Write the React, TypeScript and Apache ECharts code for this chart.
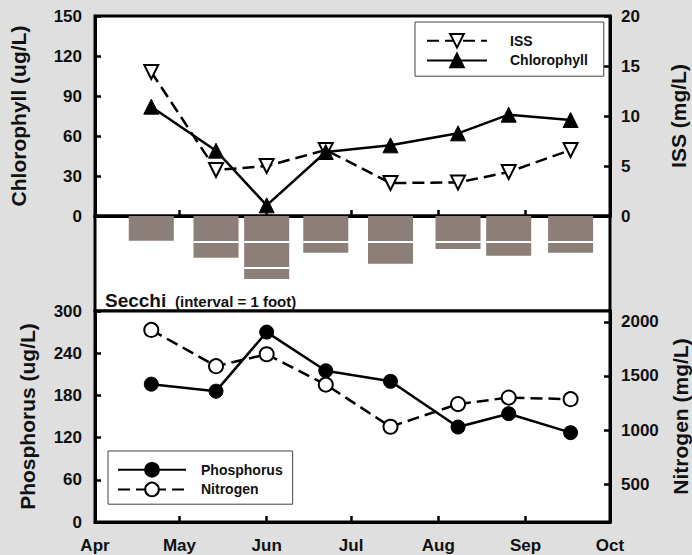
import React, { useEffect, useRef } from "react";
import * as echarts from "echarts";

// ---- data ----
const monthNames = ["Apr", "May", "Jun", "Jul", "Aug", "Sep", "Oct"];
const monthStartDays = [0, 30, 61, 91, 122, 153, 183]; // days since Apr 1
const sampleDays = [20, 43, 61, 82, 105, 129, 147, 169];
const chlorophyll = [82, 49, 8, 48, 53, 62, 76, 72];
const iss = [14.4, 4.6, 5.0, 6.6, 3.3, 3.35, 4.4, 6.6];
const secchiFeet = [0.95, 1.6, 2.42, 1.41, 1.83, 1.27, 1.53, 1.41];
const phosphorus = [196, 186, 270, 215, 200, 135, 154, 127];
const nitrogen = [1925, 1590, 1700, 1420, 1030, 1240, 1300, 1285];
const chlTicks = [0, 30, 60, 90, 120, 150];
const nitrogenTicks = [500, 1000, 1500, 2000];

const FONT = '"Liberation Sans", Arial, Helvetica, sans-serif';
const INK = "#111111";
const BAR = "#8c7e79";

export default function App() {
  const ref = useRef<HTMLDivElement>(null);
  useEffect(() => {
    if (!ref.current) return;
    document.body.style.margin = "0";
    const chart = echarts.init(ref.current, null, { renderer: "svg" });
    const pair = (arr: number[]) => sampleDays.map((d, i) => [d, arr[i]]);
    const axisLine = { show: true, lineStyle: { color: "#000", width: 3 } };
    const tickStyle = { show: true, inside: true, length: 6, lineStyle: { color: "#000", width: 2.5 } };
    const labelStyle = { color: INK, fontSize: 17, fontWeight: "bold", fontFamily: FONT };
    const nameStyle = { color: INK, fontSize: 21, fontWeight: "bold", fontFamily: FONT };
    const gridBase = {
      left: 95, width: 515, show: true, backgroundColor: "#fff", borderColor: "#000", borderWidth: 3,
      containLabel: false, outerBoundsMode: "none",
    };
    const xBase = { type: "value", min: 0, max: 183, splitLine: { show: false } };
    const legendText = { color: INK, fontSize: 14, fontWeight: "bold", fontFamily: FONT };
    const barDays = 16;

    const option: any = {
      animation: false,
      backgroundColor: "#dfdfe0",
      grid: [
        { ...gridBase, top: 16, height: 200 },
        { ...gridBase, top: 216, height: 95 },
        { ...gridBase, top: 311, height: 211 },
      ],
      xAxis: [
        {
          ...xBase, gridIndex: 0, axisLine,
          axisTick: { ...tickStyle, customValues: monthStartDays },
          axisLabel: { show: false },
        },
        { ...xBase, gridIndex: 1, show: false },
        {
          ...xBase, gridIndex: 2, axisLine,
          axisTick: { ...tickStyle, customValues: monthStartDays },
          axisLabel: {
            ...labelStyle, margin: 15, customValues: monthStartDays,
            formatter: (v: number) => monthNames[monthStartDays.indexOf(v)] ?? "",
          },
        },
      ],
      yAxis: [
        {
          type: "value", gridIndex: 0, min: 0, max: 150, interval: 30, position: "left",
          axisLine, axisTick: { ...tickStyle, customValues: chlTicks }, splitLine: { show: false },
          axisLabel: { ...labelStyle, margin: 13 },
          name: "Chlorophyll (ug/L)", nameLocation: "middle", nameRotate: 90, nameGap: 66, nameTextStyle: nameStyle,
        },
        {
          type: "value", gridIndex: 0, min: 0, max: 20, interval: 5, position: "right",
          axisLine, axisTick: tickStyle, splitLine: { show: false },
          axisLabel: { ...labelStyle, margin: 11 },
          name: "ISS (mg/L)", nameLocation: "middle", nameRotate: 90, nameGap: 58, nameTextStyle: nameStyle,
        },
        { type: "value", gridIndex: 1, min: 0, max: 3.65, inverse: true, show: false },
        {
          type: "value", gridIndex: 2, min: 0, max: 300, interval: 60, position: "left",
          axisLine, axisTick: tickStyle, splitLine: { show: false },
          axisLabel: { ...labelStyle, margin: 13 },
          name: "Phosphorus (ug/L)", nameLocation: "middle", nameRotate: 90, nameGap: 57, nameTextStyle: nameStyle,
        },
        {
          type: "value", gridIndex: 2, min: 150, max: 2100, position: "right",
          axisLine, axisTick: { ...tickStyle, customValues: nitrogenTicks }, splitLine: { show: false },
          axisLabel: { ...labelStyle, margin: 11, customValues: nitrogenTicks, formatter: (v: number) => String(v) },
          name: "Nitrogen (mg/L)", nameLocation: "middle", nameRotate: 90, nameGap: 58, nameTextStyle: nameStyle,
        },
      ],
      legend: [
        {
          data: ["ISS", "Chlorophyll"], orient: "vertical", left: 415, top: 22,
          itemWidth: 60, itemHeight: 17, itemGap: 4, padding: [11, 16, 8, 11],
          borderColor: "#444", borderWidth: 1, backgroundColor: "#fff",
          textStyle: { ...legendText, padding: [0, 0, 0, 18] },
        },
        {
          data: ["Phosphorus", "Nitrogen"], orient: "vertical", left: 108, top: 451,
          itemWidth: 68, itemHeight: 17, itemGap: 4, padding: [11, 10, 7, 9],
          borderColor: "#444", borderWidth: 1, backgroundColor: "#fff",
          textStyle: { ...legendText, padding: [0, 0, 0, 10] },
        },
      ],
      graphic: [
        { type: "text", x: 105, y: 300, z: 100, style: { text: "Secchi", font: `bold 19px ${FONT}`, fill: INK, verticalAlign: "middle" } },
        { type: "text", x: 175, y: 301, z: 100, style: { text: "(interval = 1 foot)", font: `bold 15px ${FONT}`, fill: INK, verticalAlign: "middle" } },
      ],
      series: [
        {
          name: "ISS", type: "line", xAxisIndex: 0, yAxisIndex: 1, data: pair(iss),
          symbol: "triangle", symbolRotate: 180, symbolSize: 14,
          itemStyle: { color: "#fff", borderColor: "#000", borderWidth: 2 },
          lineStyle: { color: "#000", width: 2.5, type: [12, 6] }, z: 3,
        },
        {
          name: "Chlorophyll", type: "line", xAxisIndex: 0, yAxisIndex: 0, data: pair(chlorophyll),
          symbol: "triangle", symbolSize: 15,
          itemStyle: { color: "#000", borderColor: "#000", borderWidth: 1 },
          lineStyle: { color: "#000", width: 2.5 }, z: 4,
        },
        {
          name: "Secchi", type: "custom", xAxisIndex: 1, yAxisIndex: 2,
          data: pair(secchiFeet), encode: { x: 0, y: 1 },
          renderItem: (params: any, api: any) => {
            const day = api.value(0);
            const depth = api.value(1);
            const top = api.coord([day, 0]);
            const bot = api.coord([day, depth]);
            const w = api.size([barDays, 0])[0];
            const children: any[] = [
              { type: "rect", shape: { x: top[0] - w / 2, y: top[1], width: w, height: bot[1] - top[1] }, style: { fill: BAR } },
            ];
            for (let k = 1; k < depth; k++) {
              const y = api.coord([day, k])[1];
              children.push({ type: "line", shape: { x1: top[0] - w / 2, y1: y, x2: top[0] + w / 2, y2: y }, style: { stroke: "#fff", lineWidth: 2 } });
            }
            return { type: "group", children };
          },
        },
        {
          name: "Phosphorus", type: "line", xAxisIndex: 2, yAxisIndex: 3, data: pair(phosphorus),
          symbol: "circle", symbolSize: 14,
          itemStyle: { color: "#000", borderColor: "#000", borderWidth: 1 },
          lineStyle: { color: "#000", width: 2.5 }, z: 4,
        },
        {
          name: "Nitrogen", type: "line", xAxisIndex: 2, yAxisIndex: 4, data: pair(nitrogen),
          symbol: "circle", symbolSize: 14,
          itemStyle: { color: "#fff", borderColor: "#000", borderWidth: 2 },
          lineStyle: { color: "#000", width: 2.5, type: [12, 6] }, z: 3,
        },
      ],
    };
    chart.setOption(option);
    return () => chart.dispose();
  }, []);
  return <div ref={ref} style={{ position: "fixed", left: 0, top: 0, width: 692, height: 555 }} />;
}
